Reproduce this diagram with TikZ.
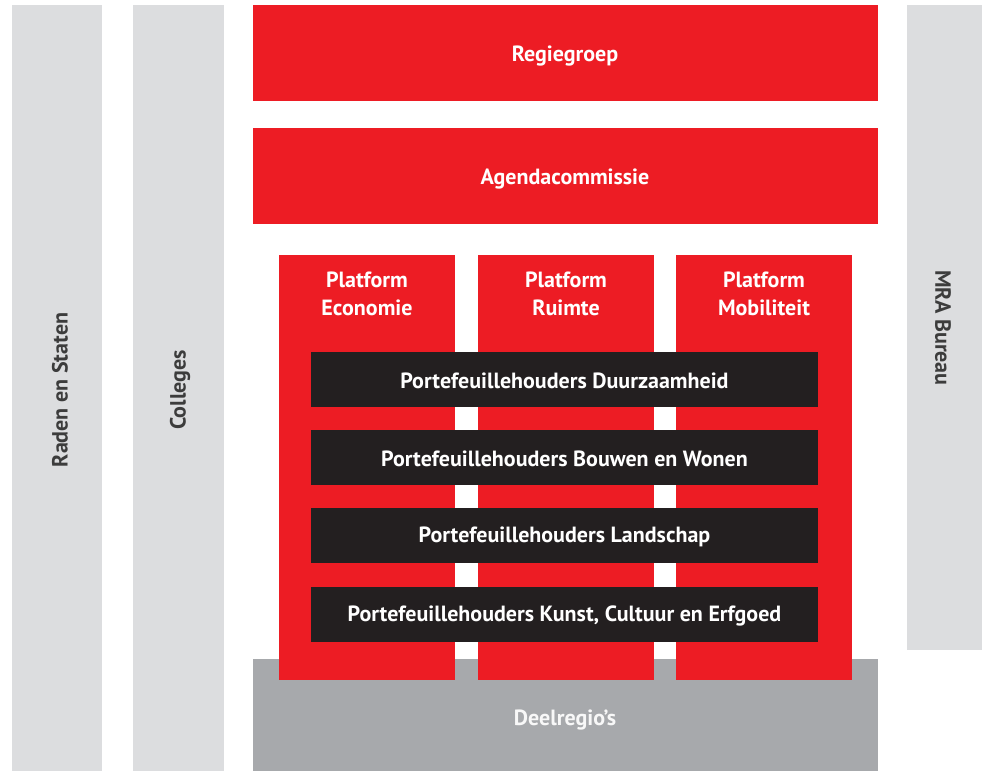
\documentclass[tikz,border=0pt]{standalone}
\usepackage{fontspec}
\setmainfont{PT Sans}
\definecolor{mrared}{HTML}{ED1C24}
\definecolor{lightgr}{HTML}{DCDDDF}
\definecolor{darkgr}{HTML}{A7A9AC}
\definecolor{blackbar}{HTML}{231F20}
\definecolor{sidetext}{HTML}{3C3C3C}
\begin{document}
\begin{tikzpicture}[x=1pt,y=-1pt,
  box/.style={rectangle, inner sep=0pt, outer sep=0pt, anchor=north west},
  redbox/.style={box, fill=mrared},
  sidebox/.style={box, fill=lightgr},
  barbox/.style={box, fill=blackbar},
  wtxt/.style={text=white, font=\bfseries\fontsize{22}{28}\selectfont, align=center, inner sep=0pt},
  stxt/.style={text=sidetext, font=\bfseries\fontsize{22}{28}\selectfont, inner sep=0pt}]
\useasboundingbox (0,0) rectangle (982,771);
% side columns
\node[sidebox, minimum width=90pt, minimum height=766pt] (raden) at (12,5) {};
\node[sidebox, minimum width=91pt, minimum height=766pt] (colleges) at (133,5) {};
\node[sidebox, minimum width=75pt, minimum height=645pt] (mra) at (907,5) {};
\node[stxt, rotate=90] (radent) at (60,390) {Raden en Staten};
\node[stxt, rotate=90] (collegest) at (180,390) {Colleges};
\node[stxt, rotate=-90] (mrat) at (943,328) {MRA Bureau};
% top boxes
\node[redbox, minimum width=625pt, minimum height=96pt] (regie) at (253,5) {};
\node[wtxt] (regiet) at (565,56) {Regiegroep};
\node[redbox, minimum width=625pt, minimum height=96pt] (agenda) at (253,128) {};
\node[wtxt] (agendat) at (565,179) {Agendacommissie};
% deelregio's
\node[box, fill=darkgr, minimum width=625pt, minimum height=112pt] (deel) at (253,659) {};
\node[wtxt, text=white!92!darkgr] (deelt) at (565,720) {Deelregio’s};
% platforms
\node[redbox, minimum width=176pt, minimum height=425pt] (pe) at (279,255) {};
\node[redbox, minimum width=176pt, minimum height=425pt] (pr) at (478,255) {};
\node[redbox, minimum width=176pt, minimum height=425pt] (pm) at (676,255) {};
\node[wtxt] (pet) at (367,294) {Platform\\Economie};
\node[wtxt] (prt) at (566,294) {Platform\\Ruimte};
\node[wtxt] (pmt) at (764,294) {Platform\\Mobiliteit};
% portfolio bars
\node[barbox, minimum width=507pt, minimum height=55pt] (b1) at (311,352) {};
\node[barbox, minimum width=507pt, minimum height=55pt] (b2) at (311,430) {};
\node[barbox, minimum width=507pt, minimum height=55pt] (b3) at (311,508) {};
\node[barbox, minimum width=507pt, minimum height=55pt] (b4) at (311,587) {};
\node[wtxt, yshift=-1.5pt] (b1t) at (b1.center) {Portefeuillehouders Duurzaamheid};
\node[wtxt, yshift=-1.5pt] (b2t) at (b2.center) {Portefeuillehouders Bouwen en Wonen};
\node[wtxt, yshift=-1.5pt] (b3t) at (b3.center) {Portefeuillehouders Landschap};
\node[wtxt, yshift=-1.5pt] (b4t) at (b4.center) {Portefeuillehouders Kunst, Cultuur en Erfgoed};
\end{tikzpicture}
\end{document}
